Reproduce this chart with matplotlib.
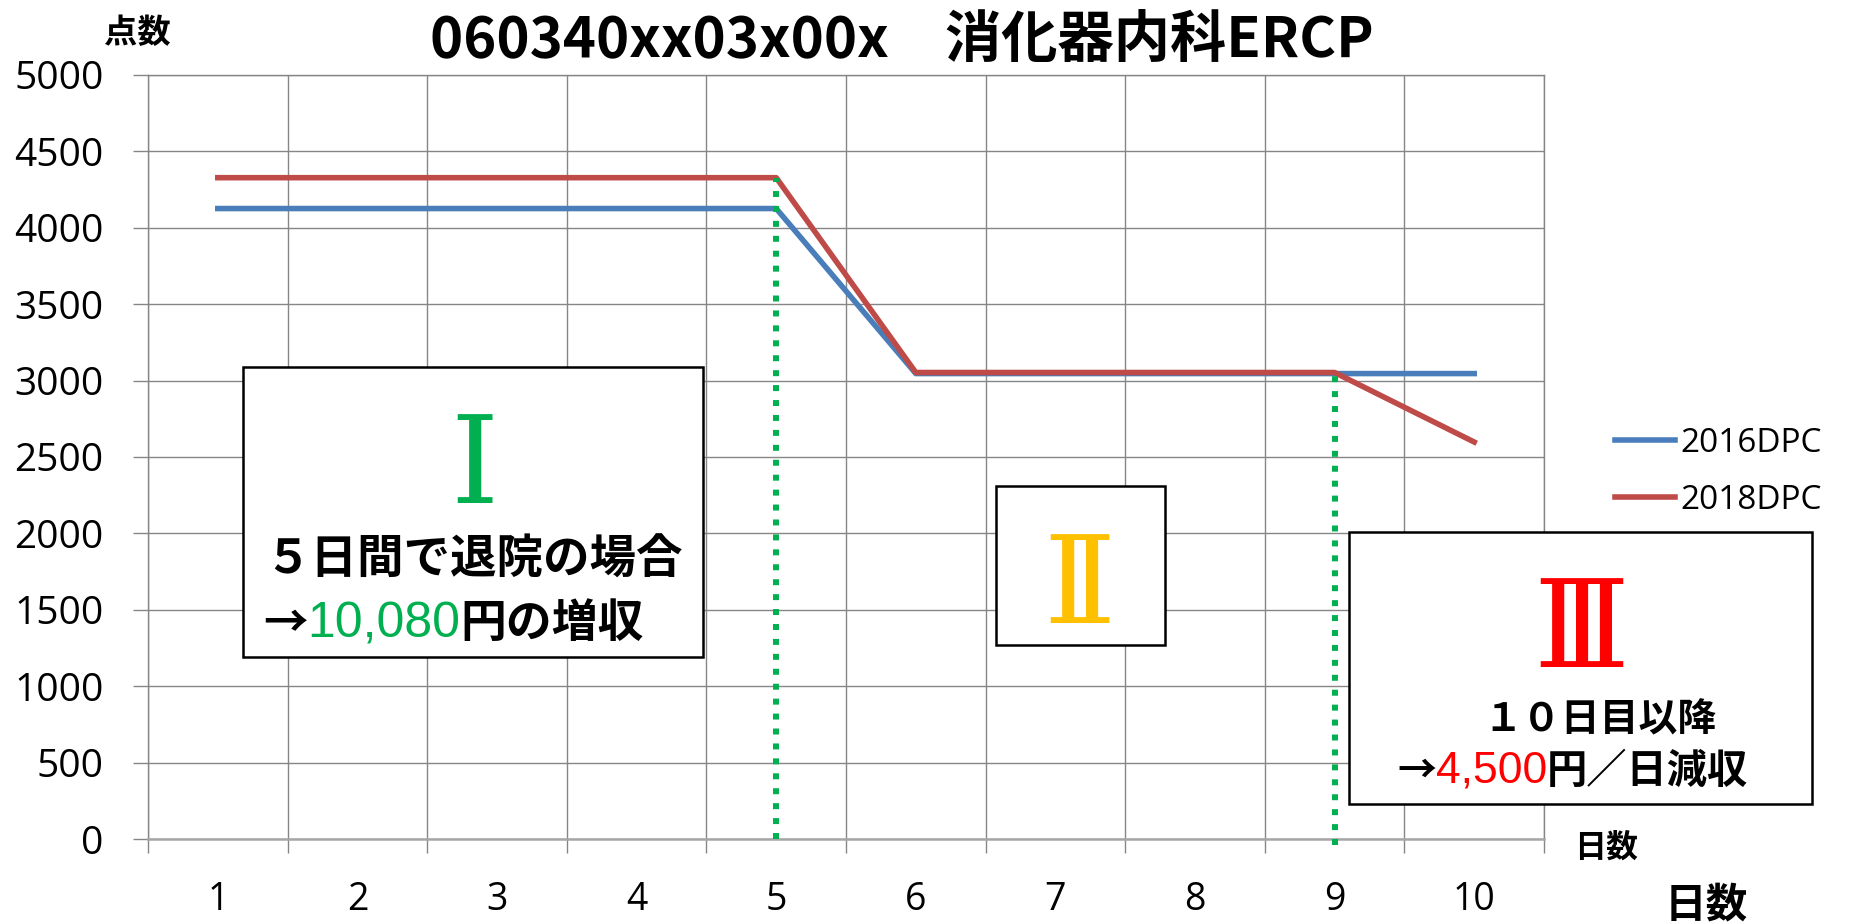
import matplotlib
matplotlib.use("Agg")
import matplotlib.pyplot as plt
from matplotlib.patches import Rectangle

# data
days = [1, 2, 3, 4, 5, 6, 7, 8, 9, 10]
dpc2016 = [4126, 4126, 4126, 4126, 4126, 3046, 3046, 3046, 3046, 3046]
dpc2018 = [4328, 4328, 4328, 4328, 4328, 3053, 3053, 3053, 3053, 2598]
series_names = ["2016DPC", "2018DPC"]
y_ticks = list(range(0, 5001, 500))
title = "060340xx03x00x\u3000消化器内科ERCP"

W, H = 1869, 923
CJK = ["Noto Sans CJK JP", "DejaVu Sans"]
LAT = ["Open Sans", "Noto Sans CJK JP"]
ROMAN = ["DejaVu Serif", "Noto Sans CJK JP"]
plt.rcParams["font.family"] = LAT

fig = plt.figure(figsize=(W / 100, H / 100), dpi=100)
ax = fig.add_axes([148 / W, 1 - 839 / H, 1396 / W, 764 / H])

grid_c = "#868686"
ax.plot(days, dpc2016, color="#4A7EBB", lw=4, label=series_names[0], zorder=3)
ax.plot(days, dpc2018, color="#BE4B48", lw=4, label=series_names[1], zorder=4)

# green dotted markers at day 5 and day 9
ax.vlines(days[4], 0, dpc2018[4], color="#00B050", lw=4.3,
          linestyles=[(0, (1, 1.5))], zorder=5)
ax.vlines(days[8], -40, dpc2018[8], color="#00B050", lw=4.3,
          linestyles=[(0, (1, 1.5))], zorder=5, clip_on=False)

ax.set_xlim(0.5, 10.5)
ax.set_ylim(0, 5000)
ax.set_yticks(y_ticks)
ax.set_xticks(days)
ax.set_xticks([d - 0.5 for d in days] + [10.5], minor=True)
ax.grid(axis="y", which="major", color=grid_c, lw=1.0)
ax.grid(axis="x", which="minor", color=grid_c, lw=1.0)
ax.tick_params(axis="y", length=11, width=1.0, color=grid_c, labelsize=28, pad=21)
ax.tick_params(axis="x", which="major", length=0, labelsize=27, pad=30)
ax.tick_params(axis="x", which="minor", length=10, width=1.0, color=grid_c)
for s in ["left", "top", "right"]:
    ax.spines[s].set_color(grid_c)
    ax.spines[s].set_linewidth(1.0)
ax.spines["bottom"].set_color("#A6A6A6")
ax.spines["bottom"].set_linewidth(1.8)

fig.legend(loc="center left", bbox_to_anchor=(1615 / W, 1 - 472 / H), frameon=False,
           fontsize=24, handlelength=1.8, handletextpad=0.15, labelspacing=0.72,
           borderpad=0, borderaxespad=0)

fig.text(902 / W, 1 - 40 / H, title, family=CJK, fontweight="bold", fontsize=40.5,
         ha="center", va="center")
fig.text(137 / W, 1 - 33 / H, "点数", family=CJK, fontweight="bold", fontsize=24,
         ha="center", va="center")
fig.text(1606 / W, 1 - 848 / H, "日数", family=CJK, fontweight="bold", fontsize=23,
         ha="center", va="center")
fig.text(1706 / W, 1 - 905 / H, "日数", family=CJK, fontweight="bold", fontsize=30,
         ha="center", va="center")


def box(x0, y0, x1, y1):
    fig.patches.append(Rectangle((x0 / W, 1 - y1 / H), (x1 - x0) / W, (y1 - y0) / H,
                                 transform=fig.transFigure, facecolor="white",
                                 edgecolor="black", lw=1.8, zorder=6))


def run(x, y, parts):
    # one line of text made of differently coloured pieces, sharing a baseline
    renderer = fig.canvas.get_renderer()
    for s, c, fam, size, wt in parts:
        t = fig.text(x / W, 1 - y / H, s, color=c, family=fam, fontsize=size,
                     fontweight=wt, ha="left", va="baseline", zorder=7)
        x = t.get_window_extent(renderer).x1


# box I
box(243, 367, 703, 657)
fig.text(474 / W, 1 - 470 / H, "Ⅰ", family=ROMAN, color="#00B050", fontsize=88,
         ha="center", va="center", zorder=7)
fig.text(473 / W, 1 - 560 / H, "５日間で退院の場合", family=CJK, fontweight="bold",
         fontsize=33.5, ha="center", va="center", zorder=7)
run(263, 637, [("→", "black", CJK, 32, "bold"),
               ("10,080", "#00B050", ["Liberation Sans"], 36, "normal"),
               ("円の増収", "black", CJK, 33, "bold")])

# box II
box(996, 486, 1165, 645)
fig.text(1079 / W, 1 - 590 / H, "Ⅱ", family=ROMAN, color="#FFC000", fontsize=88,
         ha="center", va="center", zorder=7)

# box III
box(1349, 532, 1812, 804)
fig.text(1581 / W, 1 - 634 / H, "Ⅲ", family=ROMAN, color="#FF0000", fontsize=88,
         ha="center", va="center", zorder=7)
fig.text(1600 / W, 1 - 720 / H, "１０日目以降", family=CJK, fontweight="bold",
         fontsize=28, ha="center", va="center", zorder=7)
run(1397, 783, [("→", "black", CJK, 28, "bold"),
                ("4,500", "#FF0000", ["Liberation Sans"], 32, "normal"),
                ("円／日減収", "black", CJK, 29, "bold")])

fig.savefig("out.png", dpi=100)
